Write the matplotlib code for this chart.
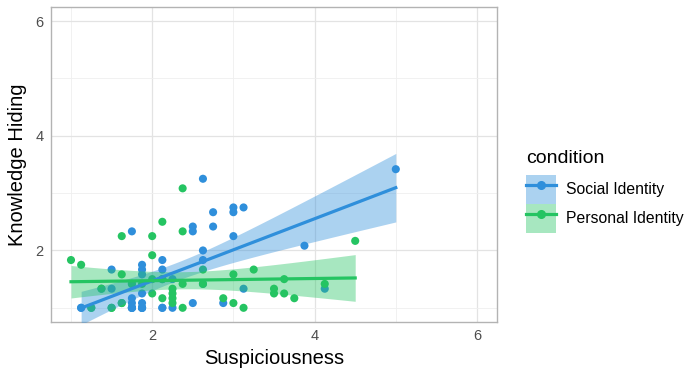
import numpy as np
import matplotlib.pyplot as plt
from matplotlib.patches import Patch
from matplotlib.lines import Line2D

plt.rcParams['font.family'] = ['Liberation Sans', 'DejaVu Sans']

# Social Identity condition (some points overlap on the 1/8 x 1/12 grid)
social_x = [1.125, 1.125, 1.375, 1.5, 1.5, 1.75, 1.75, 1.75, 1.75, 1.75, 1.75, 1.75, 1.75,
            1.875, 1.875, 1.875, 1.875, 1.875, 1.875, 1.875, 1.875, 1.875,
            2.125, 2.125, 2.125, 2.125, 2.125, 2.25, 2.25, 2.5, 2.5, 2.5, 2.625, 2.625, 2.625, 2.625,
            2.75, 2.75, 2.875, 3.0, 3.0, 3.0, 3.125, 3.125, 3.875, 4.125, 5.0]
social_y = [1.0, 1.0, 1.333, 1.333, 1.667, 2.333, 1.417, 1.167, 1.083, 1.0, 1.0, 1.0, 1.0,
            1.75, 1.667, 1.583, 1.25, 1.083, 1.0, 1.0, 1.0, 1.0,
            1.833, 1.667, 1.5, 1.0, 1.0, 1.0, 1.5, 2.417, 2.333, 1.083, 3.25, 2.0, 1.833, 1.417,
            2.667, 2.417, 1.083, 2.75, 2.667, 2.25, 2.75, 1.333, 2.083, 1.333, 3.417]

# Personal Identity condition
personal_x = [1.0, 1.125, 1.25, 1.25, 1.375, 1.5, 1.5, 1.625, 1.625, 1.625, 1.625, 1.75, 1.875,
              2.0, 2.0, 2.0, 2.0, 2.125, 2.125, 2.125, 2.25, 2.25, 2.25, 2.25,
              2.375, 2.375, 2.375, 2.375, 2.625, 2.625, 2.875, 3.0, 3.0, 3.125, 3.25,
              3.5, 3.5, 3.625, 3.625, 3.75, 4.125, 4.5]
personal_y = [1.833, 1.75, 1.0, 1.0, 1.333, 1.0, 1.0, 2.25, 1.583, 1.083, 1.083, 1.417, 1.417,
              2.25, 1.917, 1.5, 1.25, 2.5, 1.5, 1.167, 1.333, 1.25, 1.167, 1.083,
              3.083, 2.333, 1.417, 1.0, 1.667, 1.417, 1.167, 1.583, 1.083, 1.0, 1.667,
              1.333, 1.25, 1.5, 1.25, 1.167, 1.417, 2.167]

groups = ['Social Identity', 'Personal Identity']
colors = ['#2f8fdb', '#25c462']
T95 = 2.02


def fit_band(x, y):
    x = np.asarray(x, float)
    y = np.asarray(y, float)
    n = len(x)
    b, a = np.polyfit(x, y, 1)
    xs = np.linspace(x.min(), x.max(), 80)
    yhat = a + b * xs
    resid = y - (a + b * x)
    s = np.sqrt(np.sum(resid ** 2) / (n - 2))
    se = s * np.sqrt(1 / n + (xs - x.mean()) ** 2 / np.sum((x - x.mean()) ** 2))
    return xs, yhat, yhat - T95 * se, yhat + T95 * se


fig = plt.figure(figsize=(6.85, 3.72), dpi=100)
ax = fig.add_axes([0.074, 0.134, 0.652, 0.848])

data = [(social_x, social_y), (personal_x, personal_y)]
for (x, y), c in zip(data, colors):
    ax.scatter(x, y, s=34, color=c, edgecolors='none', zorder=3)
for (x, y), c in zip(data, colors):
    xs, yhat, lo, hi = fit_band(x, y)
    ax.fill_between(xs, lo, hi, color=c, alpha=0.4, lw=0, zorder=4)
    ax.plot(xs, yhat, color=c, lw=2.3, zorder=5)

ax.set_xlim(0.75, 6.25)
ax.set_ylim(0.75, 6.25)
ax.set_xticks([2, 4, 6])
ax.set_yticks([2, 4, 6])
ax.set_xticks([1, 3, 5], minor=True)
ax.set_yticks([1, 3, 5], minor=True)
ax.grid(which='major', color='#e3e3e3', lw=0.9)
ax.grid(which='minor', color='#efefef', lw=0.6)
ax.set_axisbelow(True)
ax.tick_params(which='both', length=0, labelsize=10.5, labelcolor='#4d4d4d', pad=5)
for sp in ax.spines.values():
    sp.set_color('#b3b3b3')
    sp.set_linewidth(1.0)
ax.set_xlabel('Suspiciousness', fontsize=14.5, labelpad=4)
ax.set_ylabel('Knowledge Hiding', fontsize=14.5, labelpad=6)

handles = [(Patch(facecolor=c, alpha=0.4, edgecolor='none'),
            Line2D([], [], color=c, lw=2.3, marker='o', markersize=5.5))
           for c in colors]
leg = fig.legend(handles, groups, title='condition', loc='upper left',
                 bbox_to_anchor=(0.768, 0.597), frameon=False, fontsize=11.3,
                 title_fontsize=14, handlelength=1.9, handleheight=2.45,
                 labelspacing=0.0, handletextpad=0.65, borderpad=0,
                 borderaxespad=0)
leg._legend_box.align = 'left'
leg._legend_box.sep = 6

fig.savefig('out.png', dpi=100)
